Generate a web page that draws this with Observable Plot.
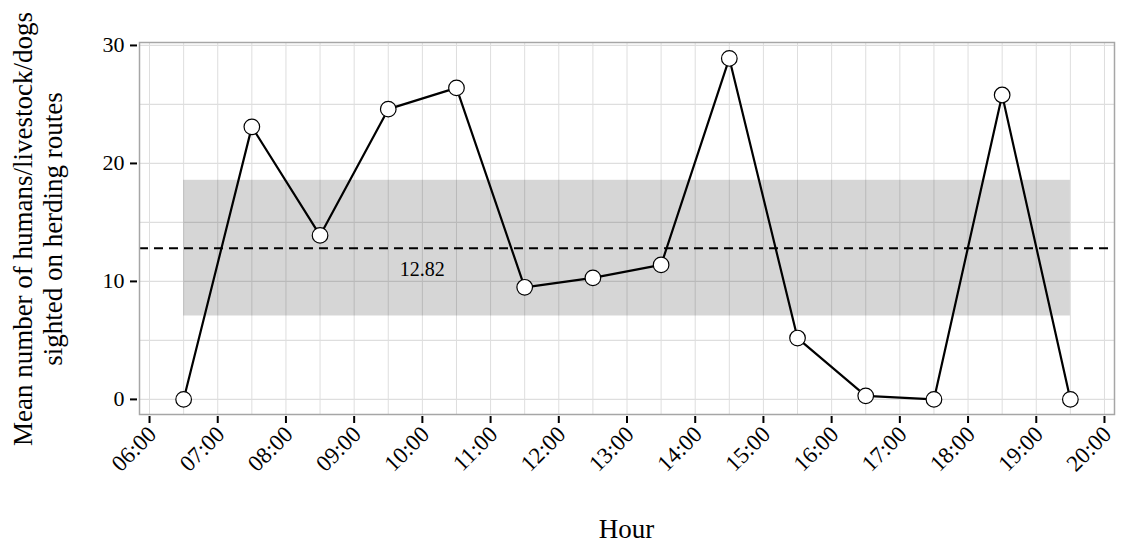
<!DOCTYPE html>
<html>
<head>
<meta charset="utf-8">
<script src="https://cdn.jsdelivr.net/npm/d3@7"></script>
<script src="https://cdn.jsdelivr.net/npm/@observablehq/plot@0.6"></script>
<style>
  html, body { margin: 0; padding: 0; background: #fff; }
  #chart svg { display: block; }
</style>
</head>
<body>
<div id="chart"></div>
<script>
// Data
const hours = [6.5, 7.5, 8.5, 9.5, 10.5, 11.5, 12.5, 13.5, 14.5, 15.5, 16.5, 17.5, 18.5, 19.5];
const values = [0, 23.1, 13.9, 24.6, 26.4, 9.5, 10.3, 11.4, 28.9, 5.2, 0.3, 0, 25.8, 0];
const meanValue = 12.82;
const bandLow = 7.07;
const bandHigh = 18.57;
const xTicks = [6, 7, 8, 9, 10, 11, 12, 13, 14, 15, 16, 17, 18, 19, 20];
const xTickLabels = ["06:00","07:00","08:00","09:00","10:00","11:00","12:00","13:00","14:00","15:00","16:00","17:00","18:00","19:00","20:00"];
const yTicks = [0, 10, 20, 30];
const yGrid = [0, 5, 10, 15, 20, 25, 30];
const xGrid = d3.range(6, 20.01, 0.5);

const data = hours.map((h, i) => ({hour: h, value: values[i]}));
const band = [{x1: hours[0], x2: hours[hours.length - 1], y1: bandLow, y2: bandHigh}];

const font = "'Liberation Serif', 'DejaVu Serif', serif";
const W = 1122, H = 544;

const plot = Plot.plot({
  width: W,
  height: H,
  marginLeft: 139,
  marginRight: 8,
  marginTop: 42,
  marginBottom: 130,
  style: {fontFamily: font, fontSize: "22px", color: "black", background: "white"},
  x: {domain: [5.853, 20.147], label: null},
  y: {domain: [-1.28, 30.25], label: null},
  marks: [
    Plot.ruleX(xGrid, {stroke: "#dedede", strokeWidth: 1}),
    Plot.ruleY(yGrid, {stroke: "#dedede", strokeWidth: 1.2}),
    Plot.rect(band, {x1: "x1", x2: "x2", y1: "y1", y2: "y2", fill: "black", fillOpacity: 0.16}),
    Plot.ruleY([meanValue], {stroke: "black", strokeWidth: 2, strokeDasharray: "9,6"}),
    Plot.text([{x: 10, y: meanValue}], {x: "x", y: "y", text: () => String(meanValue), dy: 21, fontSize: 20, fill: "black"}),
    Plot.frame({stroke: "#a6a6a6", strokeWidth: 1.5}),
    Plot.line(data, {x: "hour", y: "value", stroke: "black", strokeWidth: 2.2}),
    Plot.dot(data, {x: "hour", y: "value", r: 7.8, fill: "white", stroke: "black", strokeWidth: 1.2}),
    // x tick marks only
    Plot.axisX(xTicks, {tickSize: 7, tickPadding: 2, stroke: "black", strokeWidth: 2, tickFormat: () => "", label: null, dy: 2}),
    // x tick labels only, rotated
    Plot.axisX(xTicks, {
      tickSize: 0, tickPadding: 13, tickRotate: -45,
      tickFormat: (d) => xTickLabels[xTicks.indexOf(d)], fontSize: 23, label: null,
      dx: 3, dy: 3
    }),
    Plot.axisY(yTicks, {tickSize: 7, tickPadding: 6, stroke: "black", strokeWidth: 2, fontSize: 22, label: null, dx: -2})
  ]
});

document.getElementById("chart").appendChild(plot);

const svg = d3.select(plot);
// axis titles
svg.append("text")
  .attr("x", (139 + 1114) / 2).attr("y", 538)
  .attr("text-anchor", "middle")
  .style("font-family", font).style("font-size", "27px").attr("fill", "black")
  .text("Hour");
const cy = 229;
svg.append("text")
  .attr("transform", `translate(32, ${cy}) rotate(-90)`)
  .attr("text-anchor", "middle")
  .style("font-family", font).style("font-size", "27px").attr("fill", "black")
  .text("Mean number of humans/livestock/dogs");
svg.append("text")
  .attr("transform", `translate(62, ${cy}) rotate(-90)`)
  .attr("text-anchor", "middle")
  .style("font-family", font).style("font-size", "27px").attr("fill", "black")
  .text("sighted on herding routes");
</script>
</body>
</html>
